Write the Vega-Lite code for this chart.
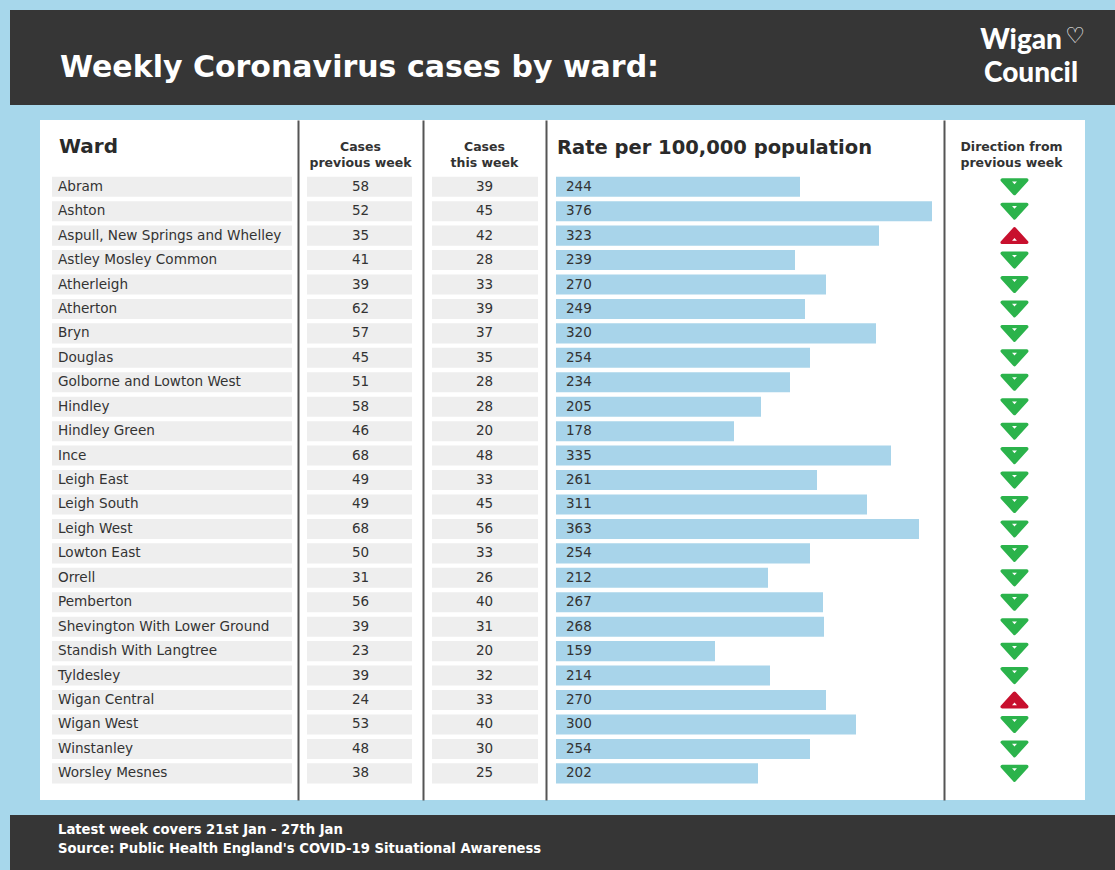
{
  "$schema": "https://vega.github.io/schema/vega-lite/v6.json",
  "background": "#a7d7eb",
  "padding": {"left": 10, "top": 10, "right": 0, "bottom": 0},
  "config": {"view": {"stroke": null}, "font": "DejaVu Sans"},
  "datasets": {
    "wards": [
      {"ward": "Abram", "prev": 58, "this": 39, "rate": 244, "dir": "down"},
      {"ward": "Ashton", "prev": 52, "this": 45, "rate": 376, "dir": "down"},
      {"ward": "Aspull, New Springs and Whelley", "prev": 35, "this": 42, "rate": 323, "dir": "up"},
      {"ward": "Astley Mosley Common", "prev": 41, "this": 28, "rate": 239, "dir": "down"},
      {"ward": "Atherleigh", "prev": 39, "this": 33, "rate": 270, "dir": "down"},
      {"ward": "Atherton", "prev": 62, "this": 39, "rate": 249, "dir": "down"},
      {"ward": "Bryn", "prev": 57, "this": 37, "rate": 320, "dir": "down"},
      {"ward": "Douglas", "prev": 45, "this": 35, "rate": 254, "dir": "down"},
      {"ward": "Golborne and Lowton West", "prev": 51, "this": 28, "rate": 234, "dir": "down"},
      {"ward": "Hindley", "prev": 58, "this": 28, "rate": 205, "dir": "down"},
      {"ward": "Hindley Green", "prev": 46, "this": 20, "rate": 178, "dir": "down"},
      {"ward": "Ince", "prev": 68, "this": 48, "rate": 335, "dir": "down"},
      {"ward": "Leigh East", "prev": 49, "this": 33, "rate": 261, "dir": "down"},
      {"ward": "Leigh South", "prev": 49, "this": 45, "rate": 311, "dir": "down"},
      {"ward": "Leigh West", "prev": 68, "this": 56, "rate": 363, "dir": "down"},
      {"ward": "Lowton East", "prev": 50, "this": 33, "rate": 254, "dir": "down"},
      {"ward": "Orrell", "prev": 31, "this": 26, "rate": 212, "dir": "down"},
      {"ward": "Pemberton", "prev": 56, "this": 40, "rate": 267, "dir": "down"},
      {"ward": "Shevington With Lower Ground", "prev": 39, "this": 31, "rate": 268, "dir": "down"},
      {"ward": "Standish With Langtree", "prev": 23, "this": 20, "rate": 159, "dir": "down"},
      {"ward": "Tyldesley", "prev": 39, "this": 32, "rate": 214, "dir": "down"},
      {"ward": "Wigan Central", "prev": 24, "this": 33, "rate": 270, "dir": "up"},
      {"ward": "Wigan West", "prev": 53, "this": 40, "rate": 300, "dir": "down"},
      {"ward": "Winstanley", "prev": 48, "this": 30, "rate": 254, "dir": "down"},
      {"ward": "Worsley Mesnes", "prev": 38, "this": 25, "rate": 202, "dir": "down"}
    ]
  },
  "spacing": 15,
  "center": true,
  "vconcat": [
    {
      "width": 1105,
      "height": 95,
      "view": {"fill": "#363636", "stroke": null},
      "layer": [
        {
          "data": {"values": [{"heading": "Weekly Coronavirus cases by ward:"}]},
          "mark": {"type": "text", "align": "left", "baseline": "alphabetic", "dx": 50, "dy": 19, "fontSize": 30, "fontWeight": "bold", "color": "white"},
          "encoding": {
            "text": {"field": "heading"},
            "x": {"datum": 0, "type": "quantitative", "scale": {"domain": [0, 1]}, "axis": null}
          }
        },
        {
          "data": {"values": [{"line": "Wigan"}]},
          "mark": {"type": "text", "align": "right", "baseline": "middle", "dx": -53, "fontSize": 28, "fontWeight": 900, "color": "white", "font": "Lato"},
          "encoding": {
            "text": {"field": "line"},
            "x": {"datum": 1, "type": "quantitative"},
            "y": {"field": "line", "type": "nominal", "sort": null, "scale": {"type": "point", "domain": ["Wigan", "Council"], "padding": 0.9}, "axis": null}
          }
        },
        {
          "data": {"values": [{"line": "Wigan", "glyph": "♡"}]},
          "mark": {"type": "text", "align": "right", "baseline": "middle", "dx": -30, "dy": -5, "fontSize": 22, "fontWeight": "bold", "color": "white", "font": "DejaVu Sans"},
          "encoding": {
            "text": {"field": "glyph"},
            "x": {"datum": 1, "type": "quantitative"},
            "y": {"field": "line", "type": "nominal"}
          }
        },
        {
          "data": {"values": [{"line": "Council"}]},
          "mark": {"type": "text", "align": "right", "baseline": "middle", "dx": -37, "fontSize": 28, "fontWeight": 900, "color": "white", "font": "Lato"},
          "encoding": {
            "text": {"field": "line"},
            "x": {"datum": 1, "type": "quantitative"},
            "y": {"field": "line", "type": "nominal"}
          }
        }
      ]
    },
    {
      "spacing": 0,
      "hconcat": [
        {
          "width": 258,
          "height": 680,
          "view": {"fill": "white", "stroke": null},
          "layer": [
            {
              "data": {"name": "wards"},
              "mark": {"type": "bar", "color": "#eeeeee"},
              "encoding": {
                "y": {"field": "ward", "type": "nominal", "sort": null, "scale": {"type": "band", "domain": ["header", "Abram", "Ashton", "Aspull, New Springs and Whelley", "Astley Mosley Common", "Atherleigh", "Atherton", "Bryn", "Douglas", "Golborne and Lowton West", "Hindley", "Hindley Green", "Ince", "Leigh East", "Leigh South", "Leigh West", "Lowton East", "Orrell", "Pemberton", "Shevington With Lower Ground", "Standish With Langtree", "Tyldesley", "Wigan Central", "Wigan West", "Winstanley", "Worsley Mesnes"], "paddingInner": 0.18, "paddingOuter": 1.065, "align": 0.66}, "axis": null},
                "x": {"datum": 0, "type": "quantitative", "scale": {"domain": [0, 1], "range": [12, 252], "nice": false}, "axis": null},
                "x2": {"datum": 1}
              }
            },
            {
              "data": {"name": "wards"},
              "mark": {"type": "text", "align": "left", "baseline": "middle", "dx": 6, "fontSize": 13.6, "fontWeight": "normal", "color": "#333333"},
              "encoding": {
                "y": {"field": "ward", "type": "nominal", "sort": null, "axis": null},
                "x": {"datum": 0, "type": "quantitative"},
                "text": {"field": "ward"}
              }
            },
            {
              "data": {"values": [{"heading": "Ward"}]},
              "mark": {"type": "text", "align": "left", "baseline": "middle", "dx": 7, "dy": -15, "fontSize": 20, "fontWeight": "bold", "color": "#2a2a2a"},
              "encoding": {
                "y": {"datum": "header", "type": "nominal", "axis": null},
                "x": {"datum": 0, "type": "quantitative"},
                "text": {"field": "heading"}
              }
            }
          ]
        },
        {
          "width": 125,
          "height": 680,
          "view": {"fill": "white", "stroke": null},
          "layer": [
            {
              "data": {"name": "wards"},
              "mark": {"type": "bar", "color": "#eeeeee"},
              "encoding": {
                "y": {"field": "ward", "type": "nominal", "sort": null, "scale": {"type": "band", "domain": ["header", "Abram", "Ashton", "Aspull, New Springs and Whelley", "Astley Mosley Common", "Atherleigh", "Atherton", "Bryn", "Douglas", "Golborne and Lowton West", "Hindley", "Hindley Green", "Ince", "Leigh East", "Leigh South", "Leigh West", "Lowton East", "Orrell", "Pemberton", "Shevington With Lower Ground", "Standish With Langtree", "Tyldesley", "Wigan Central", "Wigan West", "Winstanley", "Worsley Mesnes"], "paddingInner": 0.18, "paddingOuter": 1.065, "align": 0.66}, "axis": {"labels": false, "ticks": false, "grid": false, "title": null, "domain": true, "domainColor": "#555555", "domainWidth": 2}},
                "x": {"datum": 0, "type": "quantitative", "scale": {"domain": [0, 1], "range": [9, 114], "nice": false}, "axis": null},
                "x2": {"datum": 1}
              }
            },
            {
              "data": {"name": "wards"},
              "mark": {"type": "text", "align": "center", "baseline": "middle", "fontSize": 13.5, "fontWeight": "normal", "color": "#333333"},
              "encoding": {
                "y": {"field": "ward", "type": "nominal", "sort": null, "axis": {"labels": false, "ticks": false, "grid": false, "title": null, "domain": true, "domainColor": "#555555", "domainWidth": 2}},
                "text": {"field": "prev"}
              }
            },
            {
              "data": {"values": [{"heading": ["Cases", "previous week"]}]},
              "mark": {"type": "text", "align": "center", "baseline": "middle", "dy": -15, "lineHeight": 16, "fontSize": 12.5, "fontWeight": "bold", "color": "#333333"},
              "encoding": {
                "y": {"datum": "header", "type": "nominal", "axis": {"labels": false, "ticks": false, "grid": false, "title": null, "domain": true, "domainColor": "#555555", "domainWidth": 2}},
                "text": {"field": "heading"}
              }
            }
          ]
        },
        {
          "width": 123,
          "height": 680,
          "view": {"fill": "white", "stroke": null},
          "layer": [
            {
              "data": {"name": "wards"},
              "mark": {"type": "bar", "color": "#eeeeee"},
              "encoding": {
                "y": {"field": "ward", "type": "nominal", "sort": null, "scale": {"type": "band", "domain": ["header", "Abram", "Ashton", "Aspull, New Springs and Whelley", "Astley Mosley Common", "Atherleigh", "Atherton", "Bryn", "Douglas", "Golborne and Lowton West", "Hindley", "Hindley Green", "Ince", "Leigh East", "Leigh South", "Leigh West", "Lowton East", "Orrell", "Pemberton", "Shevington With Lower Ground", "Standish With Langtree", "Tyldesley", "Wigan Central", "Wigan West", "Winstanley", "Worsley Mesnes"], "paddingInner": 0.18, "paddingOuter": 1.065, "align": 0.66}, "axis": {"labels": false, "ticks": false, "grid": false, "title": null, "domain": true, "domainColor": "#555555", "domainWidth": 2}},
                "x": {"datum": 0, "type": "quantitative", "scale": {"domain": [0, 1], "range": [9, 115], "nice": false}, "axis": null},
                "x2": {"datum": 1}
              }
            },
            {
              "data": {"name": "wards"},
              "mark": {"type": "text", "align": "center", "baseline": "middle", "fontSize": 13.5, "fontWeight": "normal", "color": "#333333"},
              "encoding": {
                "y": {"field": "ward", "type": "nominal", "sort": null, "axis": {"labels": false, "ticks": false, "grid": false, "title": null, "domain": true, "domainColor": "#555555", "domainWidth": 2}},
                "text": {"field": "this"}
              }
            },
            {
              "data": {"values": [{"heading": ["Cases", "this week"]}]},
              "mark": {"type": "text", "align": "center", "baseline": "middle", "dy": -15, "lineHeight": 16, "fontSize": 12.5, "fontWeight": "bold", "color": "#333333"},
              "encoding": {
                "y": {"datum": "header", "type": "nominal", "axis": {"labels": false, "ticks": false, "grid": false, "title": null, "domain": true, "domainColor": "#555555", "domainWidth": 2}},
                "text": {"field": "heading"}
              }
            }
          ]
        },
        {
          "width": 398,
          "height": 680,
          "view": {"fill": "white", "stroke": null},
          "layer": [
            {
              "data": {"name": "wards"},
              "mark": {"type": "bar", "color": "#a8d4ea"},
              "encoding": {
                "y": {"field": "ward", "type": "nominal", "sort": null, "scale": {"type": "band", "domain": ["header", "Abram", "Ashton", "Aspull, New Springs and Whelley", "Astley Mosley Common", "Atherleigh", "Atherton", "Bryn", "Douglas", "Golborne and Lowton West", "Hindley", "Hindley Green", "Ince", "Leigh East", "Leigh South", "Leigh West", "Lowton East", "Orrell", "Pemberton", "Shevington With Lower Ground", "Standish With Langtree", "Tyldesley", "Wigan Central", "Wigan West", "Winstanley", "Worsley Mesnes"], "paddingInner": 0.18, "paddingOuter": 1.065, "align": 0.66}, "axis": {"labels": false, "ticks": false, "grid": false, "title": null, "domain": true, "domainColor": "#555555", "domainWidth": 2}},
                "x": {"field": "rate", "type": "quantitative", "scale": {"domain": [0, 388], "range": [10, 398], "nice": false, "zero": true}, "axis": null}
              }
            },
            {
              "data": {"name": "wards"},
              "mark": {"type": "text", "align": "left", "baseline": "middle", "dx": 10, "fontSize": 13.5, "fontWeight": "normal", "color": "#333333"},
              "encoding": {
                "y": {"field": "ward", "type": "nominal", "sort": null, "axis": {"labels": false, "ticks": false, "grid": false, "title": null, "domain": true, "domainColor": "#555555", "domainWidth": 2}},
                "x": {"datum": 0, "type": "quantitative"},
                "text": {"field": "rate"}
              }
            },
            {
              "data": {"values": [{"heading": "Rate per 100,000 population"}]},
              "mark": {"type": "text", "align": "left", "baseline": "middle", "dx": 1, "dy": -14, "fontSize": 19.5, "fontWeight": "bold", "color": "#2a2a2a"},
              "encoding": {
                "y": {"datum": "header", "type": "nominal", "axis": {"labels": false, "ticks": false, "grid": false, "title": null, "domain": true, "domainColor": "#555555", "domainWidth": 2}},
                "x": {"datum": 0, "type": "quantitative"},
                "text": {"field": "heading"}
              }
            }
          ]
        },
        {
          "width": 141,
          "height": 680,
          "view": {"fill": "white", "stroke": null},
          "resolve": {"scale": {"shape": "independent"}},
          "layer": [
            {
              "data": {"name": "wards"},
              "mark": {"type": "point", "filled": true, "size": 600, "opacity": 1, "strokeWidth": 3.5, "strokeJoin": "round"},
              "encoding": {
                "y": {"field": "ward", "type": "nominal", "sort": null, "scale": {"type": "band", "domain": ["header", "Abram", "Ashton", "Aspull, New Springs and Whelley", "Astley Mosley Common", "Atherleigh", "Atherton", "Bryn", "Douglas", "Golborne and Lowton West", "Hindley", "Hindley Green", "Ince", "Leigh East", "Leigh South", "Leigh West", "Lowton East", "Orrell", "Pemberton", "Shevington With Lower Ground", "Standish With Langtree", "Tyldesley", "Wigan Central", "Wigan West", "Winstanley", "Worsley Mesnes"], "paddingInner": 0.18, "paddingOuter": 1.065, "align": 0.66}, "axis": {"labels": false, "ticks": false, "grid": false, "title": null, "domain": true, "domainColor": "#555555", "domainWidth": 2}},
                "shape": {"field": "dir", "type": "nominal", "scale": {"domain": ["down", "up"], "range": ["M-1,-0.55L1,-0.55L0,0.55Z", "M-1,0.55L1,0.55L0,-0.55Z"]}, "legend": null},
                "color": {"field": "dir", "type": "nominal", "scale": {"domain": ["down", "up"], "range": ["#2bb34b", "#c8102e"]}, "legend": null},
                "stroke": {"field": "dir", "type": "nominal", "scale": {"domain": ["down", "up"], "range": ["#2bb34b", "#c8102e"]}, "legend": null}
              }
            },
            {
              "data": {"name": "wards"},
              "mark": {"type": "point", "filled": true, "size": 600, "opacity": 1, "color": "white", "strokeWidth": 0},
              "encoding": {
                "y": {"field": "ward", "type": "nominal", "sort": null, "axis": {"labels": false, "ticks": false, "grid": false, "title": null, "domain": true, "domainColor": "#555555", "domainWidth": 2}},
                "shape": {"field": "dir", "type": "nominal", "scale": {"domain": ["down", "up"], "range": ["M-0.2,-0.42L0.2,-0.42L0,-0.2Z", "M-0.2,0.42L0.2,0.42L0,0.2Z"]}, "legend": null}
              }
            },
            {
              "data": {"values": [{"heading": ["Direction from", "previous week"]}]},
              "mark": {"type": "text", "align": "center", "baseline": "middle", "dx": -3, "dy": -15, "lineHeight": 16, "fontSize": 12.5, "fontWeight": "bold", "color": "#333333"},
              "encoding": {
                "y": {"datum": "header", "type": "nominal", "axis": {"labels": false, "ticks": false, "grid": false, "title": null, "domain": true, "domainColor": "#555555", "domainWidth": 2}},
                "text": {"field": "heading"}
              }
            }
          ]
        }
      ]
    },
    {
      "width": 1105,
      "height": 55,
      "view": {"fill": "#363636", "stroke": null},
      "data": {"values": [{"note": "Latest week covers 21st Jan - 27th Jan"}, {"note": "Source: Public Health England's COVID-19 Situational Awareness"}]},
      "mark": {"type": "text", "align": "left", "baseline": "middle", "dx": 48, "dy": -3, "fontSize": 13.2, "fontWeight": "bold", "color": "white"},
      "encoding": {
        "text": {"field": "note"},
        "x": {"datum": 0, "type": "quantitative", "scale": {"domain": [0, 1]}, "axis": null},
        "y": {"field": "note", "type": "nominal", "sort": null, "scale": {"type": "point", "padding": 0.95}, "axis": null}
      }
    }
  ]
}
